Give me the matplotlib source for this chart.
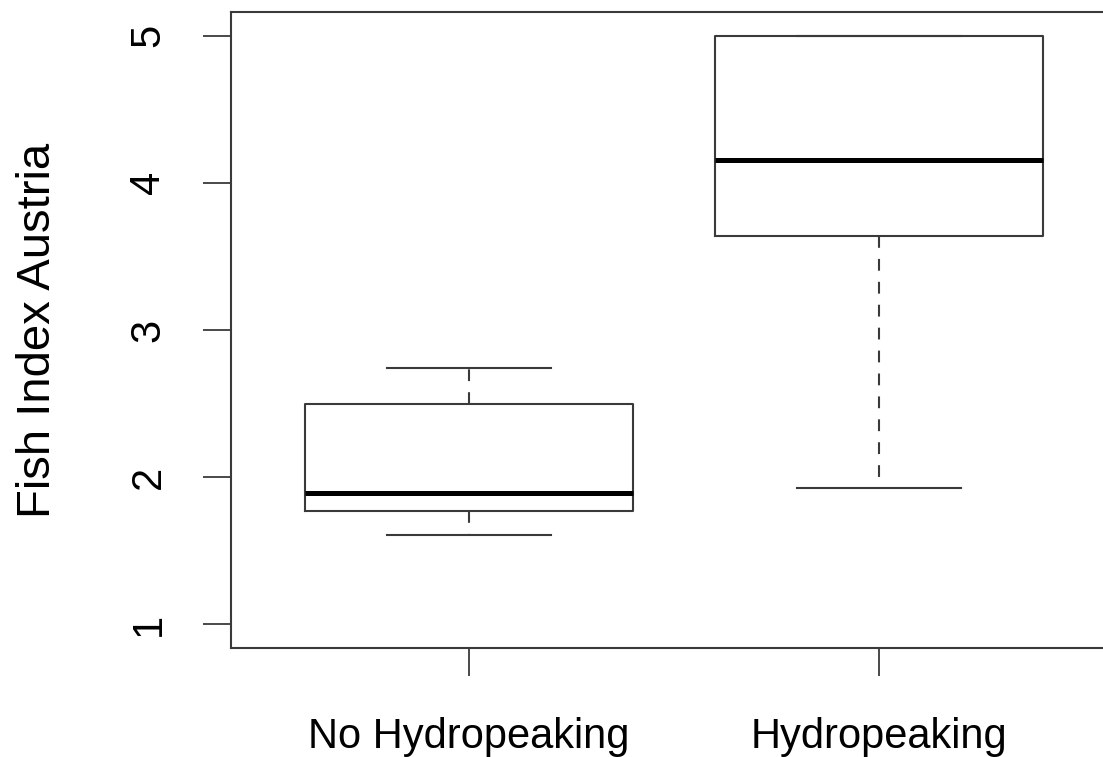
import matplotlib
matplotlib.use('Agg')
import matplotlib.pyplot as plt

plt.rcParams['font.family'] = ['Liberation Sans', 'DejaVu Sans']
plt.rcParams['lines.scale_dashes'] = False

groups = ['No Hydropeaking', 'Hydropeaking']
whis_low = [1.61, 1.93]
q1 = [1.77, 3.64]
median = [1.89, 4.155]
q3 = [2.50, 5.00]
whis_high = [2.74, 5.00]
y_ticks = [1, 2, 3, 4, 5]

stats = []
for i in range(len(groups)):
    stats.append({'label': groups[i], 'whislo': whis_low[i], 'q1': q1[i],
                  'med': median[i], 'q3': q3[i], 'whishi': whis_high[i],
                  'fliers': []})

fig = plt.figure(figsize=(11.03, 7.57), dpi=100)
ax = fig.add_axes([231 / 1103, 109 / 757, 886 / 1103, 636 / 757])

col = '#3a3a3a'
ax.bxp(stats, positions=[1, 2], widths=0.8, capwidths=0.4, showfliers=False,
       boxprops=dict(color=col, linewidth=1.5),
       whiskerprops=dict(color=col, linewidth=1.5, linestyle=(0, (8.5, 8.0))),
       capprops=dict(color=col, linewidth=1.5),
       medianprops=dict(color='black', linewidth=3.6, solid_capstyle='butt'))

ax.set_xlim(0.42, 2.58)
ax.set_ylim(0.84, 5.16)

ax.set_xticks([1, 2])
ax.set_xticklabels(groups, fontsize=30)
ax.set_yticks(y_ticks)
ax.set_yticklabels([str(v) for v in y_ticks], fontsize=30, rotation=90,
                   va='center')
ax.tick_params(axis='both', length=20, width=1.3, colors=col, labelcolor='black')
ax.tick_params(axis='x', pad=30)
ax.tick_params(axis='y', pad=25)

for s in ax.spines.values():
    s.set_color(col)
    s.set_linewidth(1.5)

ax.set_ylabel('Fish Index Austria', fontsize=34, labelpad=49)

fig.savefig('out.png', dpi=100)
